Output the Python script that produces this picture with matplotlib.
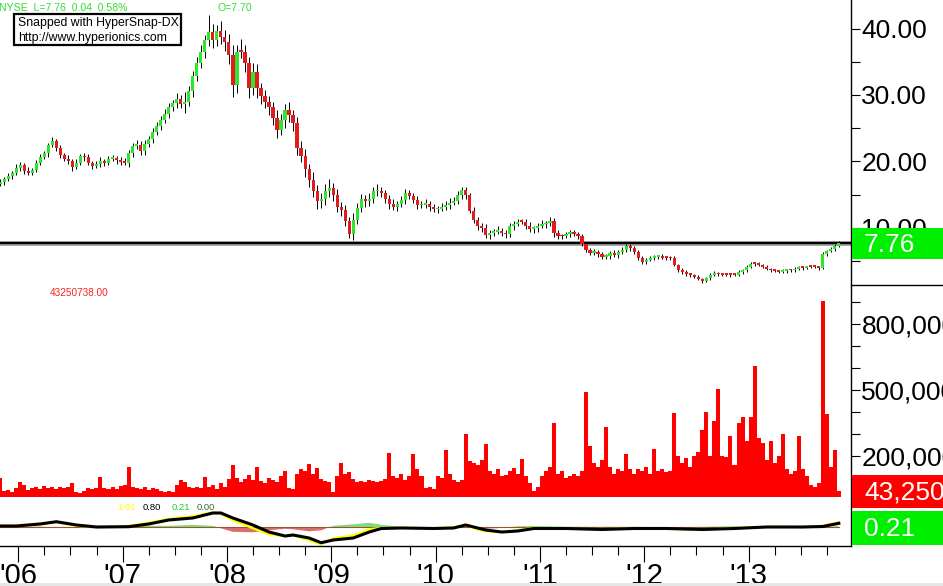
import numpy as np
import matplotlib
matplotlib.use('Agg')
import matplotlib.pyplot as plt
from matplotlib.patches import Rectangle
from matplotlib.lines import Line2D

plt.rcParams['font.family'] = ['Liberation Sans', 'DejaVu Sans']

W, H = 943, 586

# ---------------- data ----------------
start_year = 2005.826          # first bi-weekly bar
step = 1 / 26                  # bi-weekly bars
first_open = 16.6

closes = [
    16.9, 17.3, 17.8, 18.3, 19.0, 19.5, 18.6, 18.3, 18.7, 19.8,
    20.6, 21.2, 22.4, 23.0, 22.0, 21.0, 20.4, 20.0, 19.2, 19.8,
    20.8, 20.6, 19.7, 19.3, 19.6, 20.0, 19.8, 20.4, 20.5, 20.2,
    19.9, 19.8, 21.2, 22.3, 22.5, 21.5, 22.6, 23.4, 24.5, 25.4,
    26.3, 27.2, 28.2, 28.8, 29.4, 28.7, 29.0, 30.6, 32.8, 34.8,
    36.5, 38.3, 39.5, 38.3, 39.6, 38.8, 38.0, 36.0, 31.5, 36.5,
    36.5, 34.8, 31.0, 33.5, 31.0, 29.8, 29.0, 28.2, 26.5, 24.8,
    26.2, 27.8, 27.0, 25.8, 22.0, 20.8, 18.8, 17.2, 15.5, 14.0,
    14.3, 15.5, 16.0, 15.0, 13.2, 12.7, 11.0, 9.0, 11.2, 13.0,
    14.4, 14.0, 14.4, 15.5, 15.6, 15.2, 14.3, 13.6, 13.2, 13.6,
    14.2, 15.2, 14.8, 14.2, 13.4, 13.5, 13.6, 13.1, 12.8, 12.9,
    13.2, 13.4, 13.8, 14.1, 15.0, 15.7, 14.9, 12.6, 11.2, 10.3,
    9.9, 8.9, 9.2, 9.4, 9.5, 9.2, 9.0, 10.2, 10.6, 10.9,
    10.9, 10.3, 9.8, 9.9, 10.3, 10.5, 10.7, 11.0, 9.2, 8.8,
    8.7, 9.0, 9.3, 9.0, 8.7, 7.5, 6.7, 6.2, 6.4, 6.0,
    5.6, 5.7, 6.2, 5.9, 6.3, 6.7, 7.2, 6.9, 6.4, 5.5,
    4.9, 5.2, 5.5, 5.6, 5.7, 5.5, 5.5, 5.4, 4.4, 3.7,
    3.3, 3.0, 2.9, 2.6, 2.3, 2.0, 2.4, 2.9, 3.1, 3.0,
    2.9, 2.9, 2.9, 2.9, 3.3, 3.6, 4.1, 4.6, 4.6, 4.4,
    4.1, 3.8, 3.6, 3.5, 3.4, 3.5, 3.6, 3.6, 3.8, 4.1,
    4.0, 4.1, 4.1, 4.1, 4.0, 6.0, 6.5, 6.8, 7.3, 7.76,
]

wick_up = [
    0.4, 0.3, 0.5, 0.3, 0.6, 0.4, 0.3, 0.5, 0.3, 0.4,
    0.5, 0.3, 0.4, 0.7, 0.3, 0.4, 0.3, 0.5, 0.4, 0.6,
    0.3, 0.4, 0.5, 0.3, 0.4, 0.6, 0.3, 0.4, 0.5, 0.3,
    0.4, 0.6, 0.5, 0.4, 0.7, 0.5, 0.6, 0.4, 0.5, 0.6,
    0.5, 0.7, 0.6, 0.5, 0.9, 0.6, 1.4, 0.7, 0.8, 0.9,
    1.0, 0.8, 2.5, 1.2, 0.9, 1.5, 1.0, 1.2, 1.6, 1.0,
    1.9, 1.1, 0.9, 1.3, 1.2, 0.8, 1.0, 0.9, 0.7, 1.2,
    1.0, 0.9, 1.1, 0.8, 0.9, 1.1, 1.0, 0.8, 1.2, 1.0,
    0.9, 1.1, 1.4, 0.8, 0.9, 0.7, 0.8, 0.6, 1.0, 0.8,
    0.7, 0.6, 0.8, 0.7, 1.0, 0.6, 0.5, 0.6, 0.7, 0.5,
    0.6, 0.7, 0.5, 0.4, 0.6, 0.5, 0.7, 0.4, 0.5, 0.4,
    0.5, 0.6, 0.7, 0.5, 0.6, 0.4, 0.5, 0.4, 0.6, 0.5,
    0.4, 0.6, 0.5, 0.4, 0.7, 0.5, 0.4, 0.6, 0.5, 0.4,
    0.5, 0.4, 0.6, 0.4, 0.5, 0.7, 0.4, 0.6, 0.5, 0.4,
    0.3, 0.4, 0.3, 0.4, 0.3, 0.4, 0.3, 0.3, 0.4, 0.3,
    0.3, 0.4, 0.3, 0.5, 0.3, 0.4, 0.3, 0.3, 0.4, 0.3,
    0.3, 0.2, 0.3, 0.3, 0.2, 0.3, 0.3, 0.2, 0.3, 0.2,
    0.2, 0.3, 0.2, 0.2, 0.3, 0.2, 0.2, 0.3, 0.4, 0.2,
    0.2, 0.3, 0.2, 0.2, 0.3, 0.2, 0.3, 0.2, 0.3, 0.2,
    0.2, 0.3, 0.2, 0.2, 0.2, 0.3, 0.2, 0.2, 0.3, 0.2,
    0.2, 0.2, 0.3, 0.2, 0.2, 0.3, 0.2, 0.3, 0.2, 0.2,
]

wick_dn = [
    0.3, 0.4, 0.3, 0.5, 0.3, 0.4, 0.5, 0.3, 0.4, 0.3,
    0.4, 0.3, 0.5, 0.3, 0.4, 0.5, 0.3, 0.4, 0.6, 0.3,
    0.4, 0.5, 0.3, 0.4, 0.3, 0.4, 0.5, 0.3, 0.4, 0.6,
    0.5, 0.4, 0.6, 0.5, 0.4, 0.6, 0.5, 0.4, 0.6, 0.5,
    0.6, 0.5, 0.7, 0.6, 0.8, 0.7, 1.4, 0.6, 0.9, 0.7,
    0.8, 1.0, 0.9, 1.3, 1.0, 1.1, 1.4, 1.3, 1.8, 1.2,
    1.0, 1.3, 1.5, 1.0, 1.4, 1.1, 0.9, 1.2, 1.0, 1.3,
    0.9, 1.1, 1.0, 1.2, 1.0, 0.9, 1.1, 1.0, 0.9, 1.1,
    1.0, 0.8, 0.9, 1.0, 0.8, 0.9, 0.7, 0.6, 0.8, 0.7,
    0.6, 0.8, 0.7, 0.6, 0.7, 0.5, 0.6, 0.7, 0.5, 0.6,
    0.5, 0.6, 0.4, 0.5, 0.6, 0.4, 0.5, 0.6, 0.4, 0.5,
    0.4, 0.5, 0.6, 0.4, 0.5, 0.6, 0.5, 0.4, 0.5, 0.6,
    0.5, 0.4, 0.6, 0.5, 0.4, 0.5, 0.6, 0.4, 0.5, 0.4,
    0.4, 0.5, 0.4, 0.6, 0.5, 0.4, 0.5, 0.4, 0.6, 0.5,
    0.4, 0.3, 0.4, 0.3, 0.4, 0.3, 0.4, 0.3, 0.3, 0.4,
    0.3, 0.3, 0.4, 0.3, 0.4, 0.3, 0.3, 0.4, 0.3, 0.3,
    0.3, 0.3, 0.2, 0.3, 0.3, 0.2, 0.3, 0.3, 0.2, 0.3,
    0.2, 0.2, 0.3, 0.2, 0.2, 0.3, 0.2, 0.2, 0.2, 0.3,
    0.2, 0.2, 0.3, 0.2, 0.2, 0.3, 0.2, 0.2, 0.3, 0.2,
    0.2, 0.2, 0.3, 0.2, 0.2, 0.2, 0.3, 0.2, 0.2, 0.2,
    0.3, 0.2, 0.2, 0.2, 0.3, 0.2, 0.2, 0.2, 0.3, 0.2,
]

volume_m = [
    100, 40, 45, 35, 55, 80, 70, 45, 55, 60,
    50, 65, 55, 60, 50, 60, 55, 60, 75, 35,
    30, 40, 55, 50, 55, 105, 55, 50, 60, 50,
    65, 70, 150, 60, 55, 50, 60, 45, 55, 50,
    40, 35, 40, 35, 70, 90, 80, 60, 55, 60,
    55, 105, 60, 70, 50, 75, 60, 95, 160, 100,
    80, 95, 115, 90, 150, 85, 75, 100, 90, 80,
    110, 130, 55, 50, 120, 140, 130, 165, 120, 145,
    95, 85, 80, 35, 110, 170, 120, 125, 95, 80,
    85, 80, 90, 85, 80, 85, 95, 215, 110, 100,
    120, 90, 110, 210, 140, 110, 55, 60, 50, 110,
    100, 225, 120, 90, 80, 90, 300, 175, 170, 160,
    180, 255, 130, 120, 140, 110, 115, 130, 145, 120,
    185, 110, 75, 40, 60, 110, 130, 150, 350, 120,
    130, 100, 110, 120, 110, 130, 490, 245, 170, 150,
    180, 330, 150, 120, 140, 130, 210, 140, 120, 140,
    130, 150, 120, 230, 130, 140, 125, 130, 395, 200,
    170, 190, 150, 200, 220, 320, 400, 200, 360, 505,
    200, 195, 290, 160, 350, 375, 270, 375, 610, 280,
    260, 180, 270, 170, 200, 300, 140, 120, 130, 290,
    140, 110, 70, 60, 75, 905, 390, 150, 225, 43,
]

# oscillator (read at selected bar indices)
osc_idx = [0, 4, 10, 14, 19, 24, 32, 37, 42, 48, 53, 55, 58, 63, 67, 71, 73,
           77, 80, 83, 88, 92, 95, 100, 108, 113, 116, 119, 121, 125, 129,
           133, 141, 150, 158, 166, 175, 183, 191, 200, 205, 209]
osc_fast = [0.3, 0.35, 0.8, 1.0, 0.3, 0.0, 0.3, 0.9, 1.7, 2.2, 3.0, 2.7, 1.4,
            -0.2, -1.4, -1.8, -1.6, -2.6, -3.4, -2.2, -1.6, -0.4, -0.1, -0.1,
            -0.2, 0.0, 0.5, -0.5, -0.8, -1.0, -0.6, -0.1, -0.3, -0.4, -0.2,
            -0.3, -0.5, -0.1, 0.1, 0.05, 0.3, 1.01]
osc_slow = [0.26, 0.26, 0.66, 1.12, 0.46, 0.06, 0.12, 0.66, 1.46, 1.86, 2.86,
            2.86, 1.86, 0.46, -0.94, -1.74, -1.54, -2.14, -3.08, -2.54, -2.14,
            -0.94, -0.24, -0.14, -0.24, -0.14, 0.46, -0.14, -0.54, -0.94,
            -0.74, -0.24, -0.24, -0.44, -0.24, -0.24, -0.44, -0.24, 0.06, 0.06,
            0.16, 0.80]
osc_hist = [0.1, 0.1, 0.15, -0.1, -0.1, 0.0, 0.2, 0.3, 0.3, 0.5, 0.3, -0.2,
            -0.9, -1.0, -0.6, -0.3, -0.4, -0.8, -0.6, 0.3, 0.6, 0.9, 0.5, 0.1,
            0.05, 0.1, 0.1, -0.2, -0.3, -0.1, 0.2, 0.25, 0.1, 0.1, 0.1, 0.0,
            0.1, 0.2, 0.2, 0.1, 0.15, 0.21]

years = [2006, 2007, 2008, 2009, 2010, 2011, 2012, 2013]
year_labels = ["'06", "'07", "'08", "'09", "'10", "'11", "'12", "'13"]
price_ticks = [10, 20, 30, 40]
price_minor = [5, 15, 25, 35]
vol_ticks = [200, 500, 800]
vol_labels = ['200,000,000', '500,000,000', '800,000,000']
vol_minor = [100, 300, 400, 600, 700, 900]
last_price = 7.76

# ---------------- derived ----------------
closes_a = np.array(closes)
n = len(closes_a)
t = start_year + np.arange(n) * step
opens = np.r_[first_open, closes_a[:-1]]
hi = np.maximum(opens, closes_a) + np.array(wick_up)
lo = np.minimum(opens, closes_a) - np.array(wick_dn)
GREEN_C = '#2fe62f'
RED_C = '#e31b1b'
colors = [GREEN_C if c > o else RED_C for o, c in zip(opens, closes_a)]
body_lo = np.minimum(opens, closes_a)
body_h = np.maximum(np.abs(closes_a - opens), 0.25)

t_osc = start_year + np.array(osc_idx) * step
hist = np.array(osc_hist)

# ---------------- figure ----------------
fig = plt.figure(figsize=(W / 100, H / 100), dpi=100)
fig.patch.set_facecolor('white')

def fx(px):
    return px / W

def fy(py):
    return 1 - py / H

XL = (2005.8246, 2013.981)
AXW = 851 / W

ax_p = fig.add_axes([0, fy(285), AXW, 285 / H])
ax_v = fig.add_axes([0, fy(497), AXW, (497 - 285) / H])
ax_o = fig.add_axes([0, fy(546), AXW, (546 - 497) / H])

for ax in (ax_p, ax_v, ax_o):
    ax.set_xlim(*XL)
    for s in ('top', 'left', 'bottom'):
        ax.spines[s].set_visible(False)
    ax.spines['right'].set_linewidth(1.0)
    ax.yaxis.tick_right()
    ax.tick_params(axis='y', which='both', direction='out', length=6.5,
                   width=0.8, pad=1, labelsize=19, colors='black')
    ax.set_facecolor('white')

# price panel
ax_p.set_ylim(1.39, 44.3)
ax_p.axhline(last_price, color='#9a9a9a', lw=3.4, zorder=1)
ax_p.axhline(last_price, color='black', lw=1.6, zorder=1.1)
ax_p.vlines(t, lo, hi, color='black', lw=0.7, zorder=2)
ax_p.bar(t, body_h, bottom=body_lo, width=0.031, color=colors, lw=0, zorder=3)
ax_p.set_yticks(price_ticks)
ax_p.set_yticklabels([f'{v:.2f}' for v in price_ticks])
ax_p.set_yticks(price_minor, minor=True)
ax_p.set_xticks([])

# volume panel
ax_v.set_ylim(13.6, 977)
ax_v.bar(t, volume_m, width=step, color='#ff0000', lw=0, align='center')
ax_v.set_yticks(vol_ticks)
ax_v.set_yticklabels(vol_labels)
ax_v.set_yticks(vol_minor, minor=True)
ax_v.set_xticks([])

# oscillator panel
ax_o.set_ylim(-3.74, 6.06)
ax_o.fill_between(t_osc, 0, hist, where=hist >= 0, interpolate=True,
                  color='#44d044', lw=0, alpha=0.7)
ax_o.fill_between(t_osc, 0, hist, where=hist <= 0, interpolate=True,
                  color='#cc3030', lw=0, alpha=0.7)
ax_o.plot([t[0], t[-1]], [0, 0], color='#a0522d', lw=0.8)
ax_o.plot(t_osc, osc_fast, color='#ffff00', lw=1.6)
ax_o.plot(t_osc, osc_slow, color='black', lw=2.2)
ax_o.set_yticks([])
ax_o.spines['bottom'].set_visible(True)
ax_o.spines['bottom'].set_linewidth(1.0)
ax_o.set_xticks(years)
ax_o.set_xticklabels(year_labels)
quarters = [y + q for y in range(2005, 2014) for q in (0.25, 0.5, 0.75)]
ax_o.set_xticks([q for q in quarters if XL[0] < q < XL[1]], minor=True)
ax_o.tick_params(axis='x', which='major', direction='out', length=11.5,
                 width=0.8, pad=0, labelsize=20)
ax_o.tick_params(axis='x', which='minor', direction='out', length=6.5,
                 width=0.8)
for lab in ax_o.get_xticklabels():
    lab.set_fontfamily(['Liberation Sans Narrow', 'Liberation Sans'])
    lab.set_fontsize(21)

# separator right of price panel
fig.add_artist(Line2D([fx(851), 1], [fy(285), fy(285)], color='black', lw=1.0,
                      transform=fig.transFigure))

# value boxes on the right
def value_box(y0, y1, color, text):
    fig.add_artist(Rectangle((fx(852), fy(y1)), fx(943 - 852), (y1 - y0) / H,
                             transform=fig.transFigure, color=color, lw=0,
                             zorder=5))
    fig.text(fx(864), fy((y0 + y1) / 2 + 1), text, color='white', fontsize=19,
             va='center', ha='left', zorder=6)

value_box(228, 259, '#00ee00', '7.76')
value_box(475, 508, '#ff0000', '43,250,738')
value_box(511, 545, '#00ee00', '0.21')

# header texts
fig.text(fx(-1), fy(8), 'NYSE  L=7.76  0.04  0.58%', color='#33dd33',
         fontsize=7.6, va='center', ha='left', zorder=6)
fig.text(fx(218), fy(8), 'O=7.70', color='#33dd33', fontsize=7.6,
         va='center', ha='left', zorder=6)

fig.add_artist(Rectangle((fx(14), fy(45)), fx(167), 31 / H,
                         transform=fig.transFigure, facecolor='white',
                         edgecolor='black', lw=1.6, zorder=5))
fig.text(fx(18), fy(23), 'Snapped with HyperSnap-DX', color='black',
         fontsize=8.8, va='center', ha='left', zorder=6)
fig.text(fx(18), fy(37.5), 'http://www.hyperionics.com', color='black',
         fontsize=8.8, va='center', ha='left', zorder=6)

fig.text(fx(50), fy(293), '43250738.00', color='#ff2020', fontsize=7.2,
         va='center', ha='left', zorder=6)

osc_labels = [('1.01', '#ffff00', 117), ('0.80', 'black', 143),
              ('0.21', '#22cc22', 172), ('0.00', '#2f6f2f', 197)]
for txt, col, xp in osc_labels:
    fig.text(fx(xp), fy(507), txt, color=col, fontsize=6.8,
             va='center', ha='left', zorder=6)

# thin grey strip at the bottom edge
fig.add_artist(Rectangle((0, 0), 1, 3 / H, transform=fig.transFigure,
                         color='#e6e6e6', lw=0, zorder=4))

fig.savefig('out.png', dpi=100)
